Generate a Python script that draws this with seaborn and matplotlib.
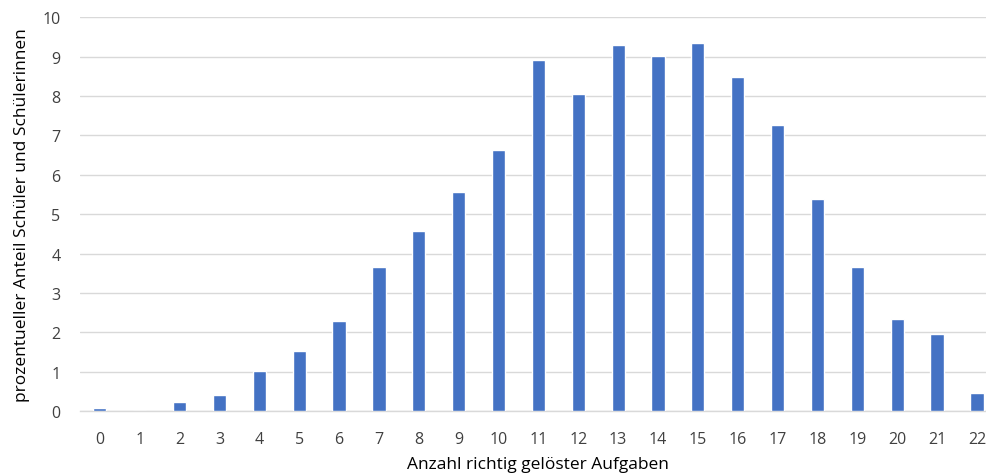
import matplotlib
matplotlib.use("Agg")
import matplotlib.pyplot as plt
import seaborn as sns
import pandas as pd

# Anzahl richtig gelöster Aufgaben (0..22) und Anteil in Prozent
aufgaben = list(range(23))
anteil = [0.07, 0.0, 0.22, 0.42, 1.02, 1.53, 2.30, 3.65, 4.57, 5.55, 6.62,
          8.92, 8.04, 9.30, 9.02, 9.35, 8.49, 7.25, 5.39, 3.67, 2.33, 1.95, 0.46]
y_ticks = list(range(0, 11))

df = pd.DataFrame({"aufgaben": [str(a) for a in aufgaben], "anteil": anteil})

sns.set_theme(style="white")
plt.rcParams["font.family"] = ["Open Sans", "DejaVu Sans"]

fig = plt.figure(figsize=(9.87, 4.77), dpi=100)
ax = fig.add_axes([0.081, 0.136, 0.929, 0.826])

sns.barplot(data=df, x="aufgaben", y="anteil", color="#4472C4",
            width=0.33, saturation=1, ax=ax, zorder=3)

ax.set_ylim(0, 10)
ax.set_yticks(y_ticks)
ax.set_xlim(-0.5, 22.5)
ax.yaxis.grid(True, color="#D9D9D9", linewidth=1.0, zorder=0)
ax.xaxis.grid(False)
for s in ["top", "right", "left"]:
    ax.spines[s].set_visible(False)
ax.spines["bottom"].set_color("#D9D9D9")
ax.spines["bottom"].set_linewidth(1.0)
ax.tick_params(axis="both", length=0, labelsize=11.5, colors="#404040")
ax.tick_params(axis="x", pad=14)
ax.tick_params(axis="y", pad=14)

ax.set_xlabel("Anzahl richtig gelöster Aufgaben", fontsize=12.5, color="#000000", labelpad=7)
ax.set_ylabel("prozentueller Anteil Schüler und Schülerinnen", fontsize=12.5,
              color="#000000", labelpad=9)

fig.savefig("out.png", dpi=100)
